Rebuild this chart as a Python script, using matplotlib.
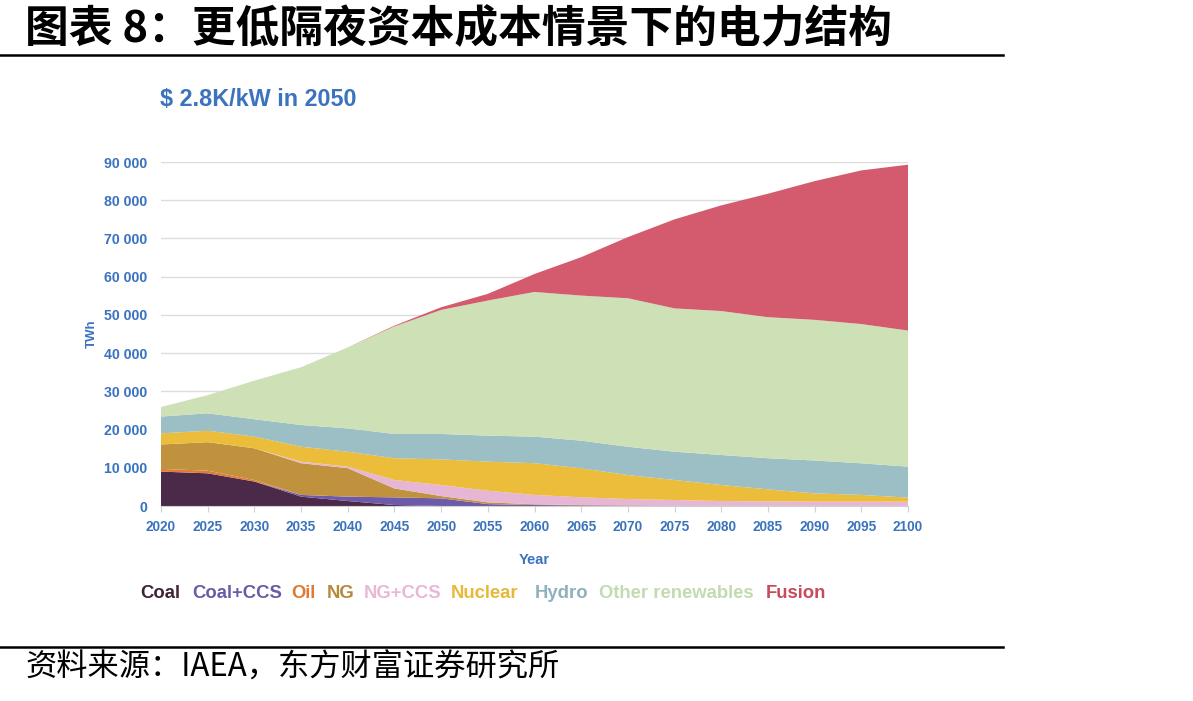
import numpy as np
import matplotlib
matplotlib.use("Agg")
import matplotlib.pyplot as plt

# years and generation by source (TWh)
years = [2020, 2025, 2030, 2035, 2040, 2045, 2050, 2055, 2060, 2065,
         2070, 2075, 2080, 2085, 2090, 2095, 2100]
coal = [9000, 8550, 6400, 2450, 1300, 260, 0, 0, 0, 0, 0, 0, 0, 0, 0, 0, 0]
coal_ccs = [0, 0, 0, 450, 1150, 2000, 2000, 500, 260, 150, 100, 80, 60, 50, 50, 50, 50]
oil = [700, 700, 400, 0, 0, 0, 0, 0, 0, 0, 0, 0, 0, 0, 0, 0, 0]
ng = [6400, 7450, 8300, 8300, 7450, 2330, 600, 460, 180, 100, 50, 0, 0, 0, 0, 0, 0]
ng_ccs = [0, 0, 0, 400, 400, 2200, 2900, 3040, 2460, 2020, 1680, 1490, 1240, 1150, 1080, 1080, 1080]
nuclear = [2900, 3000, 3050, 3900, 3900, 5700, 6700, 7600, 8300, 7590, 6270, 5230, 4200, 3160, 2170, 1770, 1070]
hydro = [4400, 4550, 4550, 5700, 6100, 6350, 6650, 6800, 6950, 7240, 7400, 7400, 7850, 8140, 8600, 8270, 8100]
other_ren = [2500, 4750, 10100, 15100, 21200, 28150, 32450, 35350, 37850, 37950,
             38850, 37500, 37650, 36900, 36800, 36430, 35600]
fusion = [0, 0, 0, 0, 0, 200, 700, 1750, 4700, 10050, 16000, 23300, 27650, 32300, 36300, 40200, 43400]

labels = ["Coal", "Coal+CCS", "Oil", "NG", "NG+CCS", "Nuclear", "Hydro", "Other renewables", "Fusion"]
fill_colors = ["#4a2a48", "#6e5aab", "#e27a3a", "#c1923e", "#e6b6d4",
               "#ebbd3a", "#9bbfc4", "#cde0b6", "#d45b6e"]
text_colors = ["#3e2339", "#6a5aa8", "#e07a30", "#b48a3c", "#eab8d6",
               "#e7b83a", "#8fb1bd", "#c2dbb0", "#c84a5e"]

lat = "Liberation Sans"
cjk = ["Noto Sans CJK SC", "DejaVu Sans"]
blue = "#3b73bf"

fig = plt.figure(figsize=(11.93, 7.01), dpi=100)
ax = fig.add_axes([161 / 1193, 1 - 506 / 701, (908 - 161) / 1193, (506 - 162) / 701])

ax.stackplot(years, coal, coal_ccs, oil, ng, ng_ccs, nuclear, hydro, other_ren, fusion,
             colors=fill_colors, linewidth=0, zorder=2)
ax.set_xlim(2020, 2100)
ax.set_ylim(0, 90000)
ax.set_xticks(years)
ax.set_yticks(range(0, 90001, 10000))
ax.set_yticklabels(["0"] + [f"{v // 1000} 000" for v in range(10000, 90001, 10000)])
ax.grid(axis="y", color="#dcdcdc", linewidth=1, zorder=0)
for s in ["top", "right", "left"]:
    ax.spines[s].set_visible(False)
ax.spines["bottom"].set_color("#d0d0d0")
ax.tick_params(axis="y", length=0, pad=10)
ax.tick_params(axis="x", length=4, color="#d0d0d0", pad=6)
for lab in ax.get_xticklabels():
    lab.set(fontfamily=lat, fontweight="bold", color=blue, fontsize=9.8)
for lab in ax.get_yticklabels():
    lab.set(fontfamily=lat, fontweight="bold", color=blue, fontsize=10.2)
ax.set_xlabel("Year", fontfamily=lat, fontweight="bold", color=blue, fontsize=10.5, labelpad=14)
ax.set_ylabel("TWh", fontfamily=lat, fontweight="bold", color=blue, fontsize=9.5, labelpad=4)

# title, subtitle, source
fig.text(25 / 1193, 1 - 29 / 701, "图表 8：更低隔夜资本成本情景下的电力结构", family=cjk,
         fontsize=31.5, fontweight="bold", va="center", ha="left")
fig.add_artist(plt.Line2D([0, 1003 / 1193], [1 - 55 / 701] * 2, color="black", linewidth=1.8))
fig.add_artist(plt.Line2D([0, 1003 / 1193], [1 - 647 / 701] * 2, color="black", linewidth=1.8))
fig.text(25 / 1193, 1 - 668 / 701, "资料来源：IAEA，东方财富证券研究所", family=cjk,
         fontsize=22.5, va="center", ha="left")
fig.text(160 / 1193, 1 - 100 / 701, "$ 2.8K/kW in 2050", family=lat, fontweight="bold",
         color=blue, fontsize=16.8, va="center", ha="left")

# text-only legend
legend_x = [140, 192, 291, 327, 364, 451, 535, 599, 766]
for x, lab, c in zip(legend_x, labels, text_colors):
    fig.text(x / 1193, 1 - 594 / 701, lab, family=lat, fontweight="bold", color=c,
             fontsize=13.3, va="center", ha="left")

fig.savefig("out.png", dpi=100)
